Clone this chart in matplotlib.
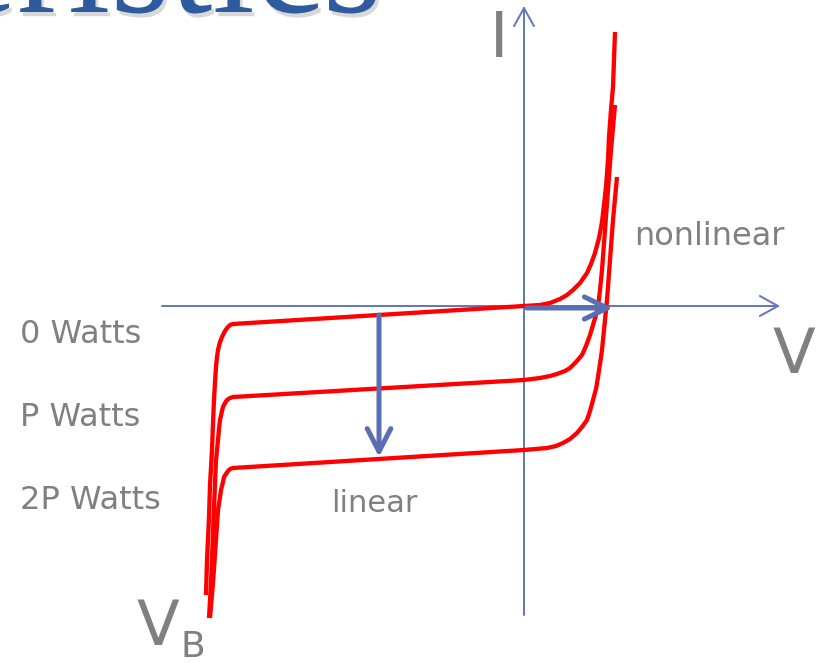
import matplotlib
matplotlib.use("Agg")
import matplotlib.pyplot as plt
import matplotlib.patheffects as pe
import numpy as np

# points, V right / I up, origin where the axes cross
v_0w = [-318, -317, -315, -314, -312, -311, -310, -309, -308, -307, -306,
        -304, -302, -299, -297, -294, -291,
        0, 16, 26, 36, 43, 49, 56, 63, 67, 71, 75, 78, 80, 82, 84, 85,
        87, 89, 91]
i_0w = [-289, -254, -211, -179, -144, -117, -94, -76, -61, -51, -44,
        -36, -31, -25, -22, -19, -18,
        0, 1, 3, 7, 11, 16, 23, 33, 42, 53, 68, 84, 101, 119, 146, 169,
        196, 219, 274]

v_pw = [-315, -313, -311, -309, -308, -306, -305, -304, -302, -301, -299,
        -297, -294, -291,
        0, 16, 26, 33, 41, 46, 52, 58, 62, 66, 69, 72, 74, 76, 78, 81,
        84, 87, 91]
i_pw = [-312, -277, -227, -177, -154, -134, -123, -114, -105, -101, -97,
        -94, -92, -91,
        -74, -72, -70, -68, -65, -62, -56, -49, -40, -29, -19, -9, -1, 16,
        36, 76, 116, 156, 201]

v_2pw = [-314, -311, -308, -307, -306, -304, -303, -301, -300, -298, -296,
         -294, -291,
         0, 23, 32, 39, 46, 53, 58, 63, 66, 69, 72, 74, 76, 78, 81, 83,
         86, 89, 93]
i_2pw = [-312, -277, -234, -218, -204, -191, -184, -176, -171, -168, -165,
         -163, -162,
         -144, -142, -140, -137, -133, -127, -121, -114, -105, -94, -83,
         -71, -58, -44, -14, 6, 46, 86, 129]

curves = [(v_0w, i_0w), (v_pw, i_pw), (v_2pw, i_2pw)]
watt_labels = ["0 Watts", "P Watts", "2P Watts"]
watt_levels = [-37, -120, -203]   # baseline of each label

# axis extents
v_axis = (-362, 256)
i_axis = (-309, 300)

red = "#FF0000"
axis_blue = "#6478BC"
arrow_blue = "#5A6EB4"
gray = "#808080"

fig = plt.figure(figsize=(8.18, 6.63), dpi=100)
ax = fig.add_axes([0, 0, 1, 1])
ax.set_xlim(-524, 294)
ax.set_ylim(-357, 306)
ax.axis("off")

px = 0.72  # one pixel in points at 100 dpi

# axes with open arrow heads
ax.annotate("", xy=(v_axis[1], 0), xytext=(v_axis[0], 0),
            arrowprops=dict(arrowstyle="->,head_length=1.3,head_width=0.72",
                            lw=2 * px, color=axis_blue, mutation_scale=10,
                            shrinkA=0, shrinkB=0))
ax.annotate("", xy=(0, i_axis[1]), xytext=(0, i_axis[0]),
            arrowprops=dict(arrowstyle="->,head_length=1.3,head_width=0.72",
                            lw=2 * px, color=axis_blue, mutation_scale=10,
                            shrinkA=0, shrinkB=0))

# characteristic curves
for v, i in curves:
    ax.plot(v, i, color=red, lw=4.3 * px, solid_joinstyle="round",
            solid_capstyle="butt", zorder=3)

# thick arrows
ax.annotate("", xy=(-145, -151), xytext=(-145, -9),
            arrowprops=dict(arrowstyle="->,head_length=1.65,head_width=0.85",
                            lw=5 * px, color=arrow_blue, mutation_scale=10,
                            shrinkA=0, shrinkB=0), zorder=4)
ax.annotate("", xy=(89, -2), xytext=(3, -2),
            arrowprops=dict(arrowstyle="->,head_length=1.65,head_width=0.8",
                            lw=5 * px, color=arrow_blue, mutation_scale=10,
                            shrinkA=0, shrinkB=0), zorder=4)

# labels
for lab, lev in zip(watt_labels, watt_levels):
    ax.text(-504, lev, lab, fontsize=23, color=gray, ha="left", va="baseline")
ax.text(110, 61, "nonlinear", fontsize=23, color=gray, ha="left", va="baseline")
ax.text(-193, -206, "linear", fontsize=22, color=gray, ha="left", va="baseline")
ax.text(249, -67, "V", fontsize=45, color=gray, ha="left", va="baseline")
ax.text(-25, 249, "I", fontsize=45, color=gray, ha="center", va="baseline")
ax.text(-387, -339, "V", fontsize=45, color=gray, ha="left", va="baseline")
ax.text(-343, -351, "B", fontsize=26, color=gray, ha="left", va="baseline")

# slide title, mostly cut off at the top
ax.text(-142, 294, "Characteristics", fontsize=110, color="#2E5B9D",
        family="Liberation Serif", ha="right", va="baseline",
        path_effects=[pe.withSimplePatchShadow(offset=(2, -3),
                                               shadow_rgbFace="gray",
                                               alpha=0.3)])

fig.savefig("out.png", dpi=100)
